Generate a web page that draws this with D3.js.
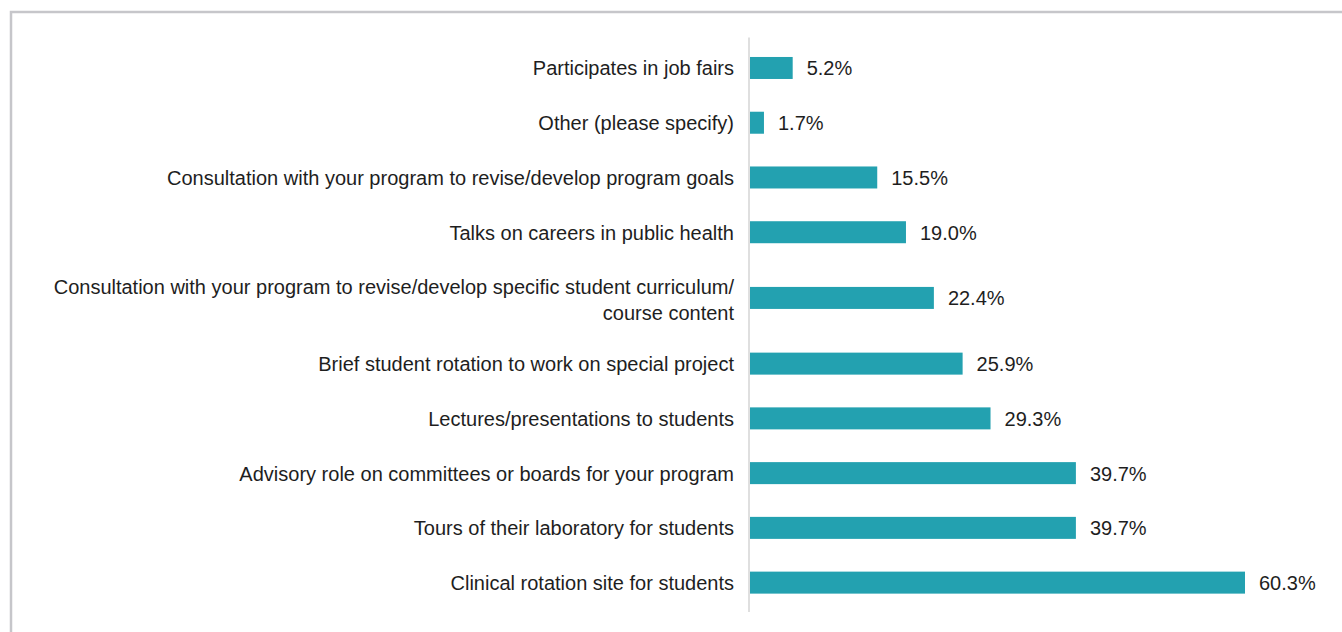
<!DOCTYPE html>
<html>
<head>
<meta charset="utf-8">
<script src="https://cdn.jsdelivr.net/npm/d3@7"></script>
<style>
  html, body { margin: 0; padding: 0; background: #fff; }
  svg { display: block; }
  text { font-family: "Liberation Sans", Arial, sans-serif; fill: #1e1e1e; }
</style>
</head>
<body>
<svg id="chart" width="1342" height="632"></svg>
<script>
const categories = [
  ["Participates in job fairs"],
  ["Other (please specify)"],
  ["Consultation with your program to revise/develop program goals"],
  ["Talks on careers in public health"],
  ["Consultation with your program to revise/develop specific student curriculum/", "course content"],
  ["Brief student rotation to work on special project"],
  ["Lectures/presentations to students"],
  ["Advisory role on committees or boards for your program"],
  ["Tours of their laboratory for students"],
  ["Clinical rotation site for students"]
];
const values = [5.2, 1.7, 15.5, 19.0, 22.4, 25.9, 29.3, 39.7, 39.7, 60.3];
const valueLabels = ["5.2%", "1.7%", "15.5%", "19.0%", "22.4%", "25.9%", "29.3%", "39.7%", "39.7%", "60.3%"];

const svg = d3.select("#chart");
const W = 1342, H = 632;

// frame
svg.append("rect").attr("x", 11).attr("y", 12).attr("width", W + 10).attr("height", H + 10)
  .attr("fill", "none").attr("stroke", "#c6c6ca").attr("stroke-width", 2.5);

// slot weights: multi-line categories get more room
const weights = categories.map(c => 1 + 0.4 * (c.length - 1));
const starts = [];
let acc = 0;
weights.forEach(w => { starts.push(acc); acc += w; });
const total = acc;
const centers = starts.map((s, i) => s + weights[i] / 2);

const y = d3.scaleLinear().domain([0, total]).range([40.6, 610]);
const x = d3.scaleLinear().domain([0, 60.3]).range([750, 1245]);

const barH = 22;
const fs = 20;
const g = svg.append("g");

// axis line
g.append("line")
  .attr("x1", x(0) - 1).attr("x2", x(0) - 1)
  .attr("y1", y(0) - 3).attr("y2", y(total) + 2)
  .attr("stroke", "#d4d4d4").attr("stroke-width", 1.5);

g.selectAll("rect.bar").data(values).join("rect")
  .attr("class", "bar")
  .attr("x", x(0))
  .attr("y", (d, i) => y(centers[i]) - barH / 2)
  .attr("width", d => x(d) - x(0))
  .attr("height", barH)
  .attr("fill", "#23a1b0");

g.selectAll("text.val").data(values).join("text")
  .attr("class", "val")
  .attr("x", d => x(d) + 14)
  .attr("y", (d, i) => y(centers[i]))
  .attr("dy", "0.37em")
  .attr("font-size", fs)
  .text((d, i) => valueLabels[i]);

const lineH = 26;
categories.forEach((lines, i) => {
  const cy = y(centers[i]) + (lines.length > 1 ? 2 : 0);
  const t = g.append("text")
    .attr("text-anchor", "end")
    .attr("font-size", fs)
    .attr("x", 734);
  lines.forEach((ln, j) => {
    t.append("tspan")
      .attr("x", 734)
      .attr("y", cy + (j - (lines.length - 1) / 2) * lineH)
      .attr("dy", "0.37em")
      .text(ln);
  });
});
</script>
</body>
</html>
